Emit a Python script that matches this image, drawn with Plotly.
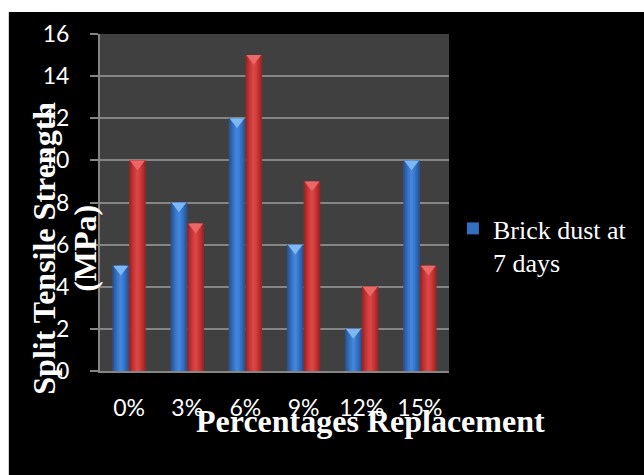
import plotly.graph_objects as go

# ---- data -------------------------------------------------------------
categories = ["0%", "3%", "6%", "9%", "12%", "15%"]
brick_dust_7_days = [5, 8, 12, 6, 2, 10]
brick_dust_28_days = [10, 7, 15, 9, 4, 5]
y_tick_values = [0, 2, 4, 6, 8, 10, 12, 14, 16]

# ---- geometry / style ---------------------------------------------------
W, H = 644, 475
M_L, M_R, M_T, M_B = 100, 188, 34, 104
PLOT_W = W - M_L - M_R
PLOT_H = H - M_T - M_B
Y_MAX = 16

BAR_W = 0.287          # width of one bar in category units
positions = list(range(len(categories)))


def px_x(px):
    return (px - M_L) / PLOT_W


def px_y(py):
    return (H - M_B - py) / PLOT_H


# cylinder-like shading: stacked narrower, lighter layers
BLUE_SHADES = [(1.00, "#2a5595"), (0.80, "#2f62aa"), (0.60, "#346fbf"),
               (0.40, "#3a7acf"), (0.20, "#4284d9")]
RED_SHADES = [(1.00, "#9a2626"), (0.80, "#b02d2d"), (0.60, "#c33535"),
              (0.40, "#d03c3c"), (0.20, "#d94545")]
BLUE_CAP = "#7db8f2"
RED_CAP = "#ea6868"
CAP_SIZE = 13

fig = go.Figure()


def add_series(values, name, centre, shades, cap_color, legend):
    for i, (frac, color) in enumerate(shades):
        w = BAR_W * frac
        fig.add_trace(go.Bar(
            x=positions, y=values, name=name,
            width=w, offset=centre - w / 2,
            marker=dict(color=color, line=dict(width=0)),
            showlegend=legend and i == 2,
            hoverinfo="y",
        ))
    # light triangular cap sitting on top of each bar
    cap_drop = (CAP_SIZE * 0.25) / (PLOT_H / Y_MAX)
    fig.add_trace(go.Scatter(
        x=[p + centre for p in positions],
        y=[v - cap_drop for v in values],
        mode="markers", showlegend=False, hoverinfo="skip",
        marker=dict(symbol="triangle-down", size=CAP_SIZE, color=cap_color,
                    line=dict(width=0)),
    ))


add_series(brick_dust_7_days, "Brick dust at<br>7 days", -BAR_W / 2,
           BLUE_SHADES, BLUE_CAP, True)
add_series(brick_dust_28_days, "Brick dust at<br>28 days", BAR_W / 2,
           RED_SHADES, RED_CAP, False)

AXIS_GREY = "#858585"
TICK_FONT = dict(family="Lato", size=23, color="white")
SERIF = "Liberation Serif"

fig.update_layout(
    width=W, height=H,
    margin=dict(l=M_L, r=M_R, t=M_T, b=M_B, pad=0),
    paper_bgcolor="black",
    plot_bgcolor="#404040",
    barmode="overlay",
    showlegend=True,
    legend=dict(
        x=px_x(460), y=px_y(205), xanchor="left", yanchor="top",
        valign="top", bgcolor="rgba(0,0,0,0)",
        font=dict(family=SERIF, size=26, color="white"),
    ),
    xaxis=dict(
        range=[-0.5, len(categories) - 0.5],
        tickmode="array", tickvals=positions, ticktext=categories,
        showgrid=False, zeroline=False,
        showline=True, linecolor=AXIS_GREY, linewidth=2,
        ticks="", ticklabelstandoff=15, tickfont=TICK_FONT,
    ),
    yaxis=dict(
        range=[0, Y_MAX], tickmode="array", tickvals=y_tick_values,
        showgrid=True, gridcolor=AXIS_GREY, gridwidth=2, zeroline=False,
        showline=True, linecolor=AXIS_GREY, linewidth=2,
        ticks="outside", ticklen=8, tickwidth=2, tickcolor=AXIS_GREY,
        ticklabelstandoff=16, tickfont=TICK_FONT,
    ),
    shapes=[
        # white border strips around the black chart area
        dict(type="rect", xref="paper", yref="paper", layer="below",
             x0=-1, x1=2, y0=px_y(12), y1=2,
             fillcolor="white", line=dict(width=0)),
        dict(type="rect", xref="paper", yref="paper", layer="below",
             x0=-1, x1=px_x(7), y0=-1, y1=2,
             fillcolor="white", line=dict(width=0)),
    ],
    annotations=[
        dict(text="<b>Percentages Replacement</b>", xref="paper", yref="paper",
             x=px_x(376), y=px_y(421), xanchor="center", yanchor="middle",
             showarrow=False, font=dict(family=SERIF, size=32, color="white")),
        dict(text="<b>Split Tensile Strength<br>(MPa)</b>",
             xref="paper", yref="paper", textangle=-90,
             x=px_x(64), y=px_y(248), xanchor="center", yanchor="middle",
             showarrow=False, font=dict(family=SERIF, size=32, color="white")),
    ],
)

fig.write_html("out.html")
